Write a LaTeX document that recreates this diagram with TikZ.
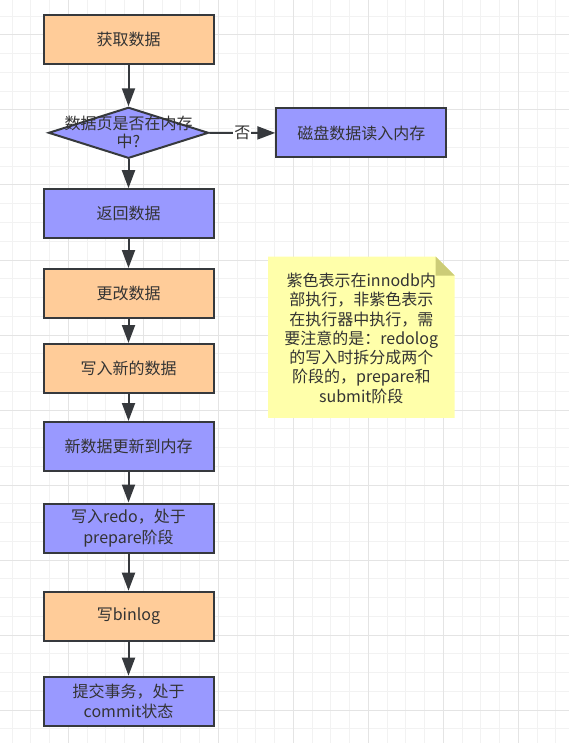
\documentclass[tikz,border=0pt]{standalone}
\usepackage{fontspec}
\setmainfont{Noto Sans CJK SC}
\usetikzlibrary{shapes.geometric,arrows.meta}
\definecolor{orangefill}{HTML}{FFCC99}
\definecolor{purplefill}{HTML}{9999FF}
\definecolor{edgec}{HTML}{36393D}
\definecolor{txtc}{HTML}{333333}
\definecolor{notefill}{HTML}{FFFFAA}
\definecolor{foldfill}{HTML}{CCCC77}
\definecolor{gridminor}{HTML}{F2F2F2}
\definecolor{gridmajor}{HTML}{E4E4E4}
\begin{document}
\begin{tikzpicture}[x=1pt,y=-1pt,
  box/.style={rectangle, draw=edgec, line width=2pt, minimum width=170pt, minimum height=49pt, inner sep=0pt, align=center, text=txtc, font=\fontsize{16}{20.7}\selectfont},
  orangebox/.style={box, fill=orangefill},
  purplebox/.style={box, fill=purplefill},
  decision/.style={diamond, draw=edgec, line width=2pt, fill=purplefill, minimum width=160pt, minimum height=51pt, inner sep=0pt},
  txt/.style={align=center, text=txtc, inner sep=0pt, font=\fontsize{16}{18}\selectfont},
  flow/.style={draw=edgec, line width=2pt, -{Triangle[length=18pt,width=13pt]}},
  elabel/.style={fill=white, text=txtc, inner sep=1pt, font=\fontsize{16}{18}\selectfont},
  notebox/.style={rectangle, minimum width=186pt, minimum height=161pt, inner sep=0pt},
  notetxt/.style={align=center, text=txtc, inner sep=0pt, font=\fontsize{16}{19.3}\selectfont},
  minorgrid/.style={draw=gridminor, line width=1pt},
  majorgrid/.style={draw=gridmajor, line width=1pt}]
\useasboundingbox (0,0) rectangle (569,743);
\fill[white] (0,0) rectangle (569,743);
% grid
\foreach \i in {0,...,29} \draw[minorgrid] ({12.08+18.75*\i},0) -- ({12.08+18.75*\i},743);
\foreach \j in {0,...,38} \draw[minorgrid] (0,{16.25+18.75*\j}) -- (569,{16.25+18.75*\j});
\foreach \i in {0,...,6} \draw[majorgrid] ({68.33+75*\i},0) -- ({68.33+75*\i},743);
\foreach \j in {0,...,9} \draw[majorgrid] (0,{35+75*\j}) -- (569,{35+75*\j});
% nodes
\node[orangebox] (get) at (128.5,39.5) {获取数据};
\node[decision] (q) at (128.5,132.8) {};
\node[txt] (qtxt) at (128.5,132.8) {数据页是否在内存\\中?};
\node[purplebox] (disk) at (361.3,133) {磁盘数据读入内存};
\node[purplebox] (ret) at (128.5,213.7) {返回数据};
\node[orangebox] (chg) at (128.5,293.5) {更改数据};
\node[orangebox] (wnew) at (128.5,368.5) {写入新的数据};
\node[purplebox] (mem) at (128.5,446.5) {新数据更新到内存};
\node[purplebox] (redo) at (128.5,528) {写入redo，处于\\prepare阶段};
\node[orangebox] (bin) at (128.5,616.2) {写binlog};
\node[purplebox] (commit) at (128.5,701.2) {提交事务，处于\\commit状态};
% note
\node[notebox] (note) at (361.3,337.2) {};
\fill[notefill] (note.north west) -- ([xshift=-19pt]note.north east) -- ([yshift=-19pt]note.north east) -- (note.south east) -- (note.south west) -- cycle;
\fill[foldfill] ([xshift=-19pt]note.north east) -- ([yshift=-19pt]note.north east) -- ([xshift=-19pt,yshift=-19pt]note.north east) -- cycle;
\node[notetxt] (notet) at (361.3,338.3) {紫色表示在innodb内\\部执行，非紫色表示\\在执行器中执行，需\\要注意的是：redolog\\的写入时拆分成两个\\阶段的，prepare和\\submit阶段};
% connectors
\draw[flow] (get) -- (q);
\draw[flow] (q) -- node[elabel] (nolabel) {否} (disk);
\draw[flow] (q) -- (ret);
\draw[flow] (ret) -- (chg);
\draw[flow] (chg) -- (wnew);
\draw[flow] (wnew) -- (mem);
\draw[flow] (mem) -- (redo);
\draw[flow] (redo) -- (bin);
\draw[flow] (bin) -- (commit);
\end{tikzpicture}
\end{document}
